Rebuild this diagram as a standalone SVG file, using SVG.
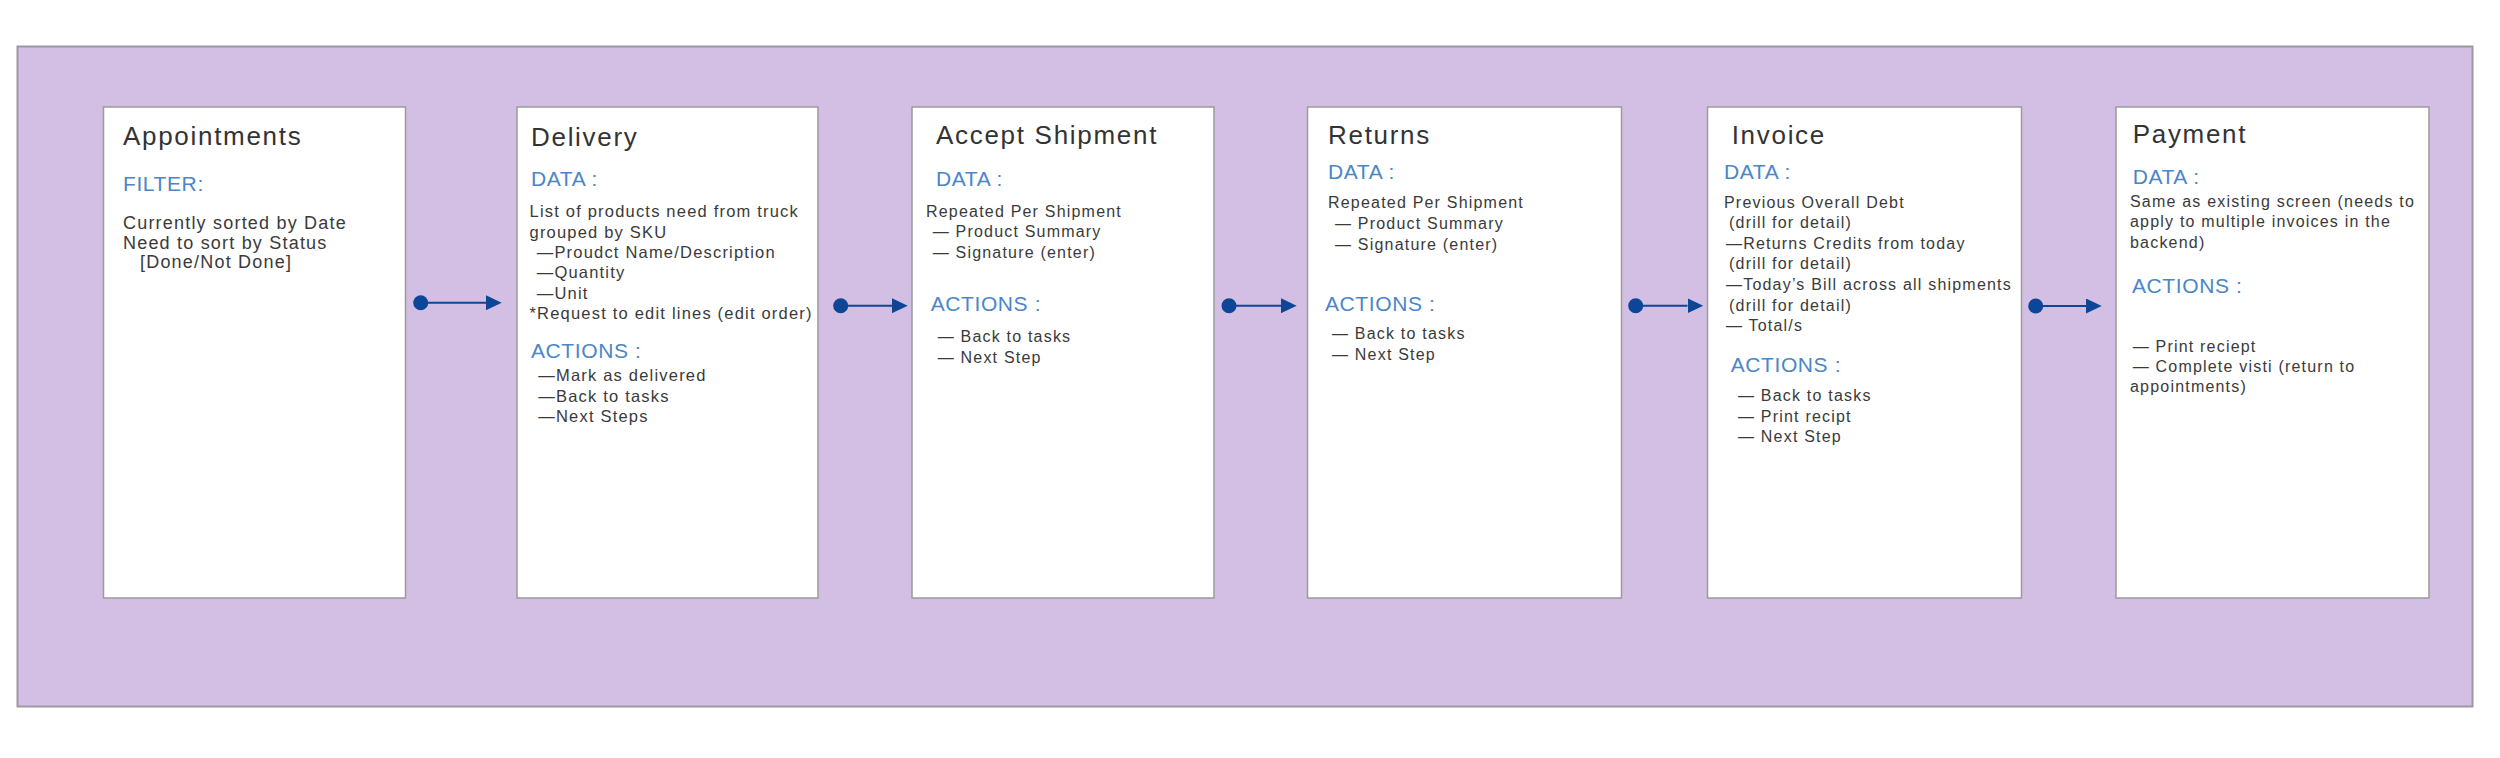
<svg xmlns="http://www.w3.org/2000/svg" width="2500" height="758" viewBox="0 0 2500 758">
<defs>
<style>
.bg{fill:#d3bfe4;stroke:#9c98a2;stroke-width:2}
.card{fill:#ffffff;stroke:#9a9a9a;stroke-width:1.5}
text{font-family:"Liberation Sans",Arial,Helvetica,sans-serif}
.t{font-size:26px;letter-spacing:1.7px;fill:#333333}
.h{font-size:21px;letter-spacing:0.6px;fill:#4a86c8}
.b{font-size:16px;letter-spacing:1.2px;fill:#3a3a3a}
.b1{font-size:18px;letter-spacing:1.2px;fill:#3a3a3a}
.b2{font-size:16.5px;letter-spacing:1.2px;fill:#3a3a3a}
.conn line{stroke:#0d4597;stroke-width:2;marker-start:url(#dot);marker-end:url(#arr)}
</style>
<marker id="dot" markerUnits="userSpaceOnUse" markerWidth="16" markerHeight="16" refX="8" refY="8" orient="auto"><circle cx="8" cy="8" r="7.5" fill="#0d4597"/></marker>
<marker id="arr" markerUnits="userSpaceOnUse" markerWidth="16" markerHeight="15" refX="0" refY="7.5" orient="auto"><path d="M0,0 L15.7,7.5 L0,15 z" fill="#0d4597"/></marker>
</defs>
<rect width="2500" height="758" fill="#ffffff"/>
<rect class="bg" x="17.5" y="46.5" width="2455" height="660"/>

<g id="appointments">
<rect class="card" x="103.5" y="107" width="302" height="491"/>
<text class="t" x="123" y="145">Appointments</text>
<text class="h" x="123" y="191">FILTER:</text>
<text class="b1" x="123" y="229">Currently sorted by Date</text>
<text class="b1" x="123" y="248.5">Need to sort by Status</text>
<text class="b1" x="140" y="268">[Done/Not Done]</text>
</g>

<g id="delivery">
<rect class="card" x="517" y="107" width="301" height="491"/>
<text class="t" x="531" y="145.5">Delivery</text>
<text class="h" x="531" y="186">DATA :</text>
<text class="b2" x="529.5" y="217.3">List of products need from truck</text>
<text class="b2" x="529.5" y="237.5">grouped by SKU</text>
<text class="b2" x="536.7" y="257.8">—Proudct Name/Description</text>
<text class="b2" x="536.7" y="278.2">—Quantity</text>
<text class="b2" x="536.7" y="298.8">—Unit</text>
<text class="b2" x="529.5" y="319.3">*Request to edit lines (edit order)</text>
<text class="h" x="531" y="357.7">ACTIONS :</text>
<text class="b2" x="538.3" y="381">—Mark as delivered</text>
<text class="b2" x="538.3" y="401.6">—Back to tasks</text>
<text class="b2" x="538.3" y="422.2">—Next Steps</text>
</g>

<g id="accept-shipment">
<rect class="card" x="912" y="107" width="302" height="491"/>
<text class="t" x="936" y="144.3">Accept Shipment</text>
<text class="h" x="936" y="185.7">DATA :</text>
<text class="b" x="926" y="216.7">Repeated Per Shipment</text>
<text class="b" x="932.7" y="237.3">— Product Summary</text>
<text class="b" x="932.7" y="257.7">— Signature (enter)</text>
<text class="h" x="930.7" y="310.7">ACTIONS :</text>
<text class="b" x="937.7" y="342.3">— Back to tasks</text>
<text class="b" x="937.7" y="363.3">— Next Step</text>
</g>

<g id="returns">
<rect class="card" x="1307.5" y="107" width="314" height="491"/>
<text class="t" x="1328" y="144.3">Returns</text>
<text class="h" x="1328" y="179">DATA :</text>
<text class="b" x="1328" y="208.3">Repeated Per Shipment</text>
<text class="b" x="1335" y="229">— Product Summary</text>
<text class="b" x="1335" y="249.7">— Signature (enter)</text>
<text class="h" x="1325" y="310.7">ACTIONS :</text>
<text class="b" x="1332" y="339.3">— Back to tasks</text>
<text class="b" x="1332" y="360">— Next Step</text>
</g>

<g id="invoice">
<rect class="card" x="1707.5" y="107" width="314" height="491"/>
<text class="t" x="1731.7" y="144.3">Invoice</text>
<text class="h" x="1724" y="179">DATA :</text>
<text class="b" x="1724" y="207.7">Previous Overall Debt</text>
<text class="b" x="1729" y="228.3">(drill for detail)</text>
<text class="b" x="1726" y="249">—Returns Credits from today</text>
<text class="b" x="1729" y="269.3">(drill for detail)</text>
<text class="b" x="1726" y="290">—Today’s Bill across all shipments</text>
<text class="b" x="1729" y="310.7">(drill for detail)</text>
<text class="b" x="1726" y="330.7">— Total/s</text>
<text class="h" x="1730.7" y="371.7">ACTIONS :</text>
<text class="b" x="1738" y="401">— Back to tasks</text>
<text class="b" x="1738" y="421.7">— Print recipt</text>
<text class="b" x="1738" y="442.3">— Next Step</text>
</g>

<g id="payment">
<rect class="card" x="2116" y="107" width="313" height="491"/>
<text class="t" x="2132.7" y="143.3">Payment</text>
<text class="h" x="2132.7" y="184.3">DATA :</text>
<text class="b" x="2130" y="206.7">Same as existing screen (needs to</text>
<text class="b" x="2130" y="227.3">apply to multiple invoices in the</text>
<text class="b" x="2130" y="247.7">backend)</text>
<text class="h" x="2132" y="293.3">ACTIONS :</text>
<text class="b" x="2132.7" y="351.7">— Print reciept</text>
<text class="b" x="2132.7" y="372.3">— Complete visti (return to</text>
<text class="b" x="2130" y="392.3">appointments)</text>
</g>

<g id="connectors" class="conn">
<line x1="420.7" y1="302.7" x2="486" y2="302.7"/>
<line x1="840.7" y1="305.7" x2="892" y2="305.7"/>
<line x1="1229" y1="305.7" x2="1281" y2="305.7"/>
<line x1="1635.7" y1="305.7" x2="1687.5" y2="305.7"/>
<line x1="2035.7" y1="306" x2="2086" y2="306"/>
</g>
</svg>
